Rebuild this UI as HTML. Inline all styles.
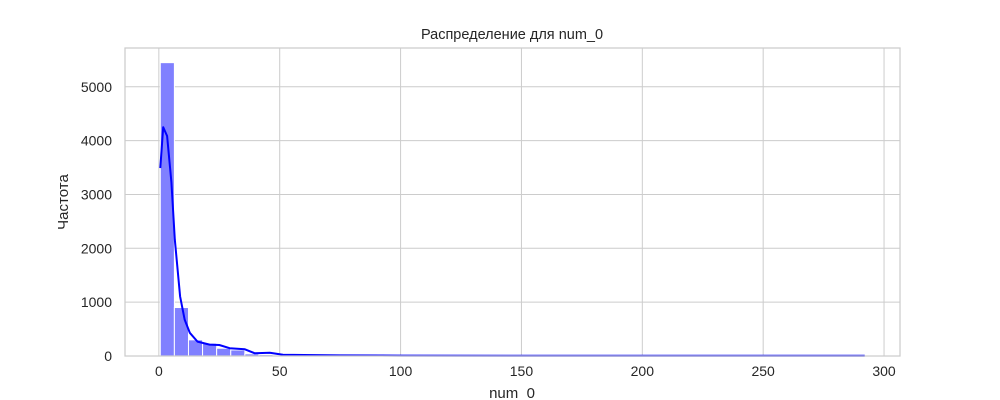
<!DOCTYPE html>
<html><head><meta charset="utf-8"><style>
html,body{margin:0;padding:0;background:#fff;width:1000px;height:400px;overflow:hidden;}
svg{display:block;}
svg text{font-family:"Liberation Sans","DejaVu Sans",sans-serif;fill:#262626;}
</style></head><body>
<svg id="c" width="1000" height="400" xmlns="http://www.w3.org/2000/svg">
<text x="512" y="39" text-anchor="middle" font-size="14.5">Распределение для num_0</text>
<text x="512" y="398" text-anchor="middle" font-size="15">num_0</text>
<text x="68" y="202" text-anchor="middle" font-size="15" transform="rotate(-90 68 202)">Частота</text>
</svg>
<script>
const binStart = 0.6;
const binWidth = 5.83;
const counts = [5448,900,300,237,144,112,40,25,18,15,12,10,10,9,8,8,7,7,6,6,6,5,5,5,4,4,4,4,3,3,3,3,3,3,3,3,3,3,3,3,3,3,3,3,3,3,3,3,3,3];
const kdeX = [0.6,1.8,3.4,5.2,6.6,8.8,10.7,12.8,16,21,25,29.3,35.6,39.7,45.9,51.3,60,75,100,150,200,250,292];
const kdeY = [3490,4250,4085,3230,2165,1107,672,430,267,211,205,144,125,50,62,25,18,12,8,6,5,4,3];
const xTicks = [0,50,100,150,200,250,300];
const yTicks = [0,1000,2000,3000,4000,5000];
const L=125,R=900,T=48,B=356,xmin=-14,xmax=306.6,ymax=5720;
const sx=v=>L+(v-xmin)/(xmax-xmin)*(R-L);
const sy=v=>B-v/ymax*(B-T);
const svg=document.getElementById('c');
const NS='http://www.w3.org/2000/svg';
const first=svg.firstChild;
function mk(tag,attrs){const e=document.createElementNS(NS,tag);for(const k in attrs)e.setAttribute(k,attrs[k]);svg.insertBefore(e,first);return e;}
xTicks.forEach(t=>{
  const g=mk('line',{x1:sx(t),x2:sx(t),y1:T,y2:B,stroke:'#cccccc','stroke-width':1});
  
  
  const tx=mk('text',{x:sx(t),y:B+20,'text-anchor':'middle','font-size':14});
  tx.textContent=t;
  
  
});
yTicks.forEach(t=>{
  const g=mk('line',{x1:L,x2:R,y1:sy(t),y2:sy(t),stroke:'#cccccc','stroke-width':1});
  
  
  const tx=mk('text',{x:L-13,y:sy(t)+5,'text-anchor':'end','font-size':14});
  tx.textContent=t;
  
  
});
counts.forEach((c,i)=>{
  const x0=sx(binStart+i*binWidth),x1=sx(binStart+(i+1)*binWidth);
  const r=mk('rect',{x:x0,y:sy(c),width:x1-x0,height:B-sy(c),fill:'#8080ff',stroke:'#ffffff','stroke-width':1});
  
  
});
const p=mk('path',{d:kdeX.map((x,i)=>(i?'L':'M')+sx(x).toFixed(1)+' '+sy(kdeY[i]).toFixed(1)).join(' '),fill:'none',stroke:'#0000ff','stroke-width':2,'stroke-linejoin':'round'});


const f=mk('rect',{x:L,y:T,width:R-L,height:B-T,fill:'none',stroke:'#cccccc','stroke-width':1.25});


</script>
</body></html>
